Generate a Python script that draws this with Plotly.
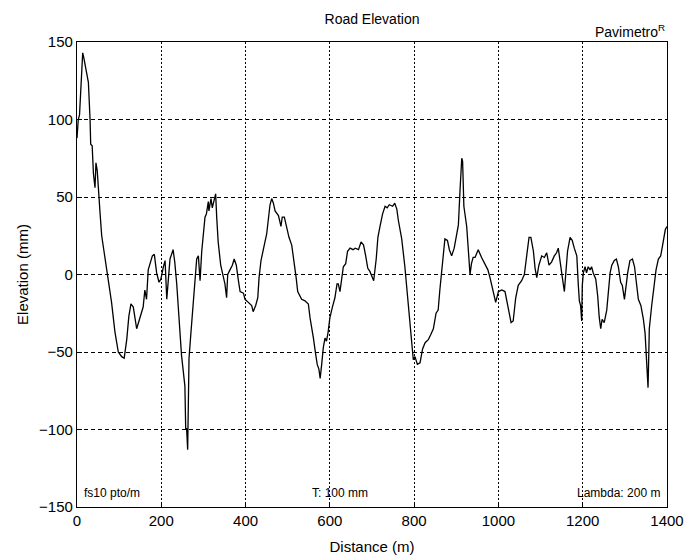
import plotly.graph_objects as go

distance = [0, 3, 6, 11, 13.5, 16, 21, 27, 31, 32.5, 36, 39, 42.7, 45, 48, 51, 54.6, 58.6, 66, 74,
            82, 90, 98, 106, 112, 118, 123, 128, 133.6, 141.6, 149.5, 157, 161, 165, 169, 178.8, 183.5, 189, 194.6, 199,
            205, 209, 213, 220.7, 228, 232, 236.6, 240, 244, 248, 252, 256, 258, 260, 262.6, 264, 265.8, 270.5, 276, 280,
            284, 288, 292, 296, 300, 303.7, 307, 311.6, 313, 318, 321, 326, 329, 331.5, 335, 341, 347, 351, 355, 357.6,
            363, 368.6, 373, 378, 383, 387, 395, 398.7, 406.5, 414.5, 418, 424, 429, 432, 436.6, 442, 446, 450, 454, 458,
            462, 466, 470, 478, 484, 487, 492, 497.6, 503, 509.5, 513, 517, 520, 523.7, 529, 533, 541, 549, 553, 557,
            561, 565, 570, 574, 577, 580.6, 584.5, 588.5, 592, 596, 600, 606, 612, 617, 620, 624, 628, 632, 637.6, 642,
            648, 655, 660, 668, 674, 680, 685, 690, 695, 700, 704, 710, 714, 719, 725, 731, 736, 741, 749, 754,
            759, 762.5, 770.5, 778, 786, 790, 794, 798, 802, 807.6, 814, 820, 826, 833.6, 839, 845.6, 852, 857, 861, 868,
            873, 879, 883.6, 889, 895, 899, 905, 909, 913, 915, 918, 924.7, 928.6, 932.6, 936, 940, 944.5, 952, 960, 968,
            975, 980, 984, 988, 993.5, 1000, 1008, 1015.6, 1020, 1023.5, 1030, 1035, 1041, 1047, 1055, 1061.5, 1067, 1072.6, 1077, 1083,
            1087, 1091, 1096, 1102.7, 1109, 1114.6, 1120, 1126, 1132.6, 1138, 1142, 1146, 1151.7, 1156.5, 1160, 1164, 1170, 1175, 1180, 1186,
            1189.6, 1192, 1195, 1197.6, 1199, 1201.5, 1205.6, 1209, 1213, 1217.5, 1221, 1225, 1231, 1235.6, 1239, 1242.7, 1246, 1251, 1257, 1261,
            1265, 1269, 1275, 1280, 1284.5, 1290, 1294, 1299, 1303, 1306.7, 1312, 1318, 1323, 1326.5, 1332, 1338, 1344, 1348, 1350, 1352.6,
            1355, 1356.5, 1358, 1363.7, 1370, 1374, 1379.5, 1385, 1389, 1393, 1396, 1400]

elevation = [88, 100, 103, 126, 143, 140, 132, 124, 100, 84, 83, 65, 56, 72, 67, 57, 40, 25, 12, -1,
             -18, -37, -50, -53, -54, -42, -27, -19, -21, -35, -27, -21, -10, -16, 3, 12, 13, 1, -5, -3,
             5, 9, -16, 10, 16, 8, -6, -21, -37, -52, -62, -72, -100, -99, -113, -88, -54, -37, -20, -6,
             10, 12, -4, 15, 26, 37, 39, 47, 41, 49, 43, 50, 52, 37, 21, 6, -2, -6, -15, 0,
             3, 6, 10, 6, -4, -11, -12, -16, -18, -20, -24, -20, -15, -2, 9, 17, 21, 26, 37, 45,
             49, 46, 41, 38, 31, 37, 37, 30, 24, 19, 13, 4, -2, -11, -14, -16, -17, -19, -28, -34,
             -41, -49, -58, -61, -67, -58, -47, -41, -43, -37, -28, -21, -15, -6, -6, -11, -2, 5, 7, 15,
             17, 16, 17, 16, 21, 19, 12, 4, 2, -2, -4, 10, 24, 31, 39, 44, 43, 45, 44, 46,
             42, 35, 23, 5, -18, -33, -46, -55, -53, -58, -57, -48, -44, -42, -39, -35, -25, -23, -10, 10,
             23, 22, 16, 12, 17, 23, 32, 55, 75, 73, 44, 31, 18, 0, 7, 11, 11, 16, 11, 7,
             3, -2, -7, -13, -18, -11, -10, -11, -17, -24, -31, -30, -15, -7, -4, 0, 13, 24, 24, 15,
             4, -2, 6, 12, 11, 14, 6, 8, 12, 14, 17, 8, -2, -11, 0, 15, 24, 22, 17, 12,
             -7, -17, -20, -30, -7, 1, 5, 1, 5, 3, 5, 1, -3, -14, -27, -35, -29, -31, -23, -12,
             1, 6, 9, 10, 5, -5, -7, -16, -7, 1, 9, 10, 5, -5, -16, -20, -29, -38, -48, -63,
             -73, -55, -35, -20, -7, 3, 10, 12, 18, 25, 29, 31]

x_ticks = [0, 200, 400, 600, 800, 1000, 1200, 1400]
y_ticks = [-150, -100, -50, 0, 50, 100, 150]

FONT = "Liberation Sans, Arial, sans-serif"

# page body has an 8px default margin (shifts top-left); plot box lands at 77..667 x 42..507
W, H = 689, 548
ML, MR, MT, MB = 69, 30, 34, 49

fig = go.Figure()
fig.add_trace(go.Scatter(x=distance, y=elevation, mode="lines",
                         line=dict(color="black", width=1.3), showlegend=False))

axis_common = dict(
    showline=True, linecolor="black", linewidth=1.2, mirror=True,
    ticks="inside", ticklen=5, tickcolor="black",
    showgrid=True, gridcolor="black", gridwidth=1,
    zeroline=False, automargin=False,
    tickfont=dict(family=FONT, size=15, color="black"),
)

fig.update_xaxes(range=[0, 1400], tickvals=x_ticks, griddash="2px,2px",
                 title=dict(text="Distance (m)", font=dict(family=FONT, size=15, color="black"), standoff=13),
                 **axis_common)
fig.update_yaxes(range=[-150, 150], tickvals=y_ticks, griddash="4px,3px",
                 title=dict(text="Elevation (mm)", font=dict(family=FONT, size=15, color="black"), standoff=6),
                 **axis_common)

plot_h = H - MT - MB
fig.update_layout(
    width=W, height=H,
    margin=dict(l=ML, r=MR, t=MT, b=MB),
    paper_bgcolor="white", plot_bgcolor="white",
    title=dict(text="Road Elevation", x=(ML + (W - ML - MR) / 2) / W, xanchor="center",
               y=1 - 11 / H, yanchor="middle",
               font=dict(family=FONT, size=14, color="black")),
    annotations=[
        dict(text="Pavimetro<sup>R</sup>", xref="paper", yref="paper", x=1.0, y=1 + 11 / plot_h,
             xanchor="right", yanchor="middle", showarrow=False,
             font=dict(family=FONT, size=14, color="black")),
        dict(text="fs10 pto/m", xref="paper", yref="paper", x=0.008, y=14 / plot_h,
             xanchor="left", yanchor="middle", showarrow=False,
             font=dict(family=FONT, size=12, color="black")),
        dict(text="T: 100 mm", xref="paper", yref="paper", x=(340 - 77) / 590, y=14 / plot_h,
             xanchor="center", yanchor="middle", showarrow=False,
             font=dict(family=FONT, size=12, color="black")),
        dict(text="Lambda: 200 m", xref="paper", yref="paper", x=0.992, y=14 / plot_h,
             xanchor="right", yanchor="middle", showarrow=False,
             font=dict(family=FONT, size=12, color="black")),
    ],
)

fig.write_html("out.html")
